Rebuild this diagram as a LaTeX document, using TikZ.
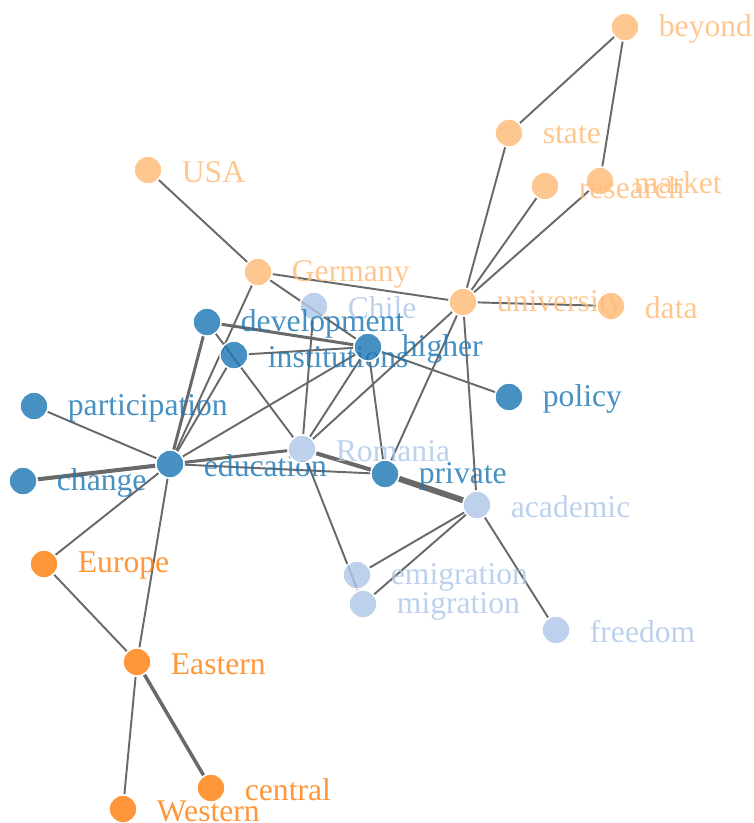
\documentclass[tikz,border=0pt]{standalone}
\usepackage{fontspec}
\setmainfont{Liberation Serif}
\usetikzlibrary{backgrounds}
\definecolor{cblue}{HTML}{1F77B4}
\definecolor{clblue}{HTML}{AEC7E8}
\definecolor{corange}{HTML}{FF7F0E}
\definecolor{clorange}{HTML}{FFBB78}
\definecolor{linkgray}{RGB}{105,105,105}
\begin{document}
\begin{tikzpicture}[x=0.02cm,y=-0.02cm,
  term/.style={circle,fill=#1,fill opacity=0.82,draw=white,line width=0.8pt,
    minimum size=0.56cm,inner sep=0pt},
  lbl/.style={text=#1,text opacity=0.82,xshift=0.26cm,yshift=-0.04cm,
    font=\fontsize{18pt}{21pt}\selectfont},
  link/.style={draw=linkgray,line width=1.1pt},
  wide/.style={link,line width=#1}]
\useasboundingbox (0,0) rectangle (754,823);
% terms, coloured by group
\node [term=clorange,label={[lbl=clorange]right:beyond}] (beyond) at (625,27) {};
\node [term=clorange,label={[lbl=clorange]right:state}] (state) at (509,133) {};
\node [term=clorange,label={[lbl=clorange]right:market}] (market) at (600,181) {};
\node [term=clorange,label={[lbl=clorange]right:research}] (research) at (545,186) {};
\node [term=clorange,label={[lbl=clorange]right:USA}] (usa) at (148,170) {};
\node [term=clorange,label={[lbl=clorange]right:Germany}] (germany) at (258,272) {};
\node [term=clorange,label={[lbl=clorange]right:university}] (university) at (463,302) {};
\node [term=clorange,label={[lbl=clorange]right:data}] (data) at (611,306) {};
\node [term=clblue,label={[lbl=clblue]right:Chile}] (chile) at (314,306) {};
\node [term=cblue,label={[lbl=cblue]right:development}] (development) at (207,322) {};
\node [term=cblue,label={[lbl=cblue]right:institutions}] (institutions) at (234,355) {};
\node [term=cblue,label={[lbl=cblue]right:higher}] (higher) at (368,347) {};
\node [term=cblue,label={[lbl=cblue]right:policy}] (policy) at (509,397) {};
\node [term=cblue,label={[lbl=cblue]right:participation}] (participation) at (34,406) {};
\node [term=cblue,label={[lbl=cblue]right:change}] (change) at (23,481) {};
\node [term=cblue,label={[lbl=cblue]right:education}] (education) at (170,464) {};
\node [term=clblue,label={[lbl=clblue]right:Romania}] (romania) at (302,449) {};
\node [term=cblue,label={[lbl=cblue]right:private}] (private) at (385,474) {};
\node [term=clblue,label={[lbl=clblue]right:academic}] (academic) at (477,505) {};
\node [term=clblue,label={[lbl=clblue]right:emigration}] (emigration) at (357,575) {};
\node [term=clblue,label={[lbl=clblue]right:migration}] (migration) at (363,604) {};
\node [term=clblue,label={[lbl=clblue]right:freedom}] (freedom) at (556,630) {};
\node [term=corange,label={[lbl=corange]right:Europe}] (europe) at (44,564) {};
\node [term=corange,label={[lbl=corange]right:Eastern}] (eastern) at (137,662) {};
\node [term=corange,label={[lbl=corange]right:central}] (central) at (211,788) {};
\node [term=corange,label={[lbl=corange]right:Western}] (western) at (123,809) {};
% links go under the terms
\begin{scope}[on background layer]
\draw [link] (beyond) -- (state);
\draw [link] (beyond) -- (market);
\draw [link] (state) -- (university);
\draw [link] (research) -- (university);
\draw [link] (market) -- (university);
\draw [link] (university) -- (data);
\draw [link] (germany) -- (university);
\draw [link] (usa) -- (germany);
\draw [link] (germany) -- (higher);
\draw [link] (germany) -- (education);
\draw [link] (chile) -- (romania);
\draw [wide=1.7pt] (development) -- (higher);
\draw [wide=1.7pt] (development) -- (education);
\draw [link] (development) -- (romania);
\draw [link] (institutions) -- (higher);
\draw [link] (institutions) -- (education);
\draw [link] (higher) -- (education);
\draw [link] (higher) -- (romania);
\draw [link] (higher) -- (private);
\draw [link] (higher) -- (policy);
\draw [link] (university) -- (romania);
\draw [link] (university) -- (private);
\draw [link] (university) -- (academic);
\draw [link] (participation) -- (education);
\draw [wide=2.3pt] (change) -- (education);
\draw [wide=1.7pt] (education) -- (romania);
\draw [link] (education) -- (private);
\draw [wide=2.3pt] (romania) -- (private);
\draw [wide=3.4pt] (private) -- (academic);
\draw [link] (romania) -- (migration);
\draw [link] (academic) -- (emigration);
\draw [link] (academic) -- (migration);
\draw [link] (academic) -- (freedom);
\draw [link] (education) -- (europe);
\draw [link] (education) -- (eastern);
\draw [link] (europe) -- (eastern);
\draw [link] (eastern) -- (western);
\draw [wide=2pt] (eastern) -- (central);
\end{scope}
\end{tikzpicture}
\end{document}
